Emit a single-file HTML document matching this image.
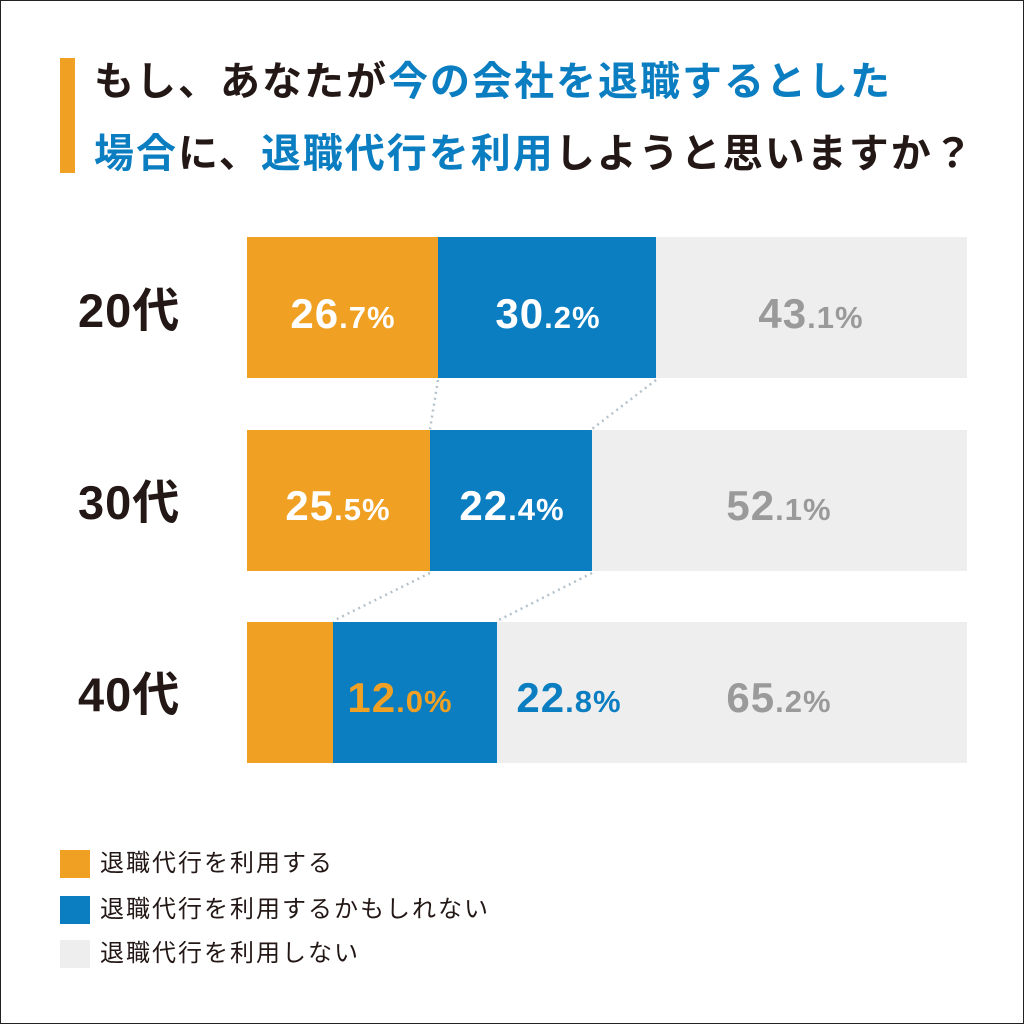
<!DOCTYPE html>
<html><head><meta charset="utf-8"><style>
*{margin:0;padding:0;box-sizing:border-box}
body{width:1024px;height:1024px;background:#fff;position:relative;overflow:hidden;font-family:"Liberation Sans","Noto Sans CJK JP",sans-serif;color:#231815}
.frame{position:absolute;left:0;top:0;width:1024px;height:1024px;border:1px solid #222}
.tbar{position:absolute;left:60px;top:58px;width:15px;height:115px;background:#F0A023}
.title{position:absolute;left:94px;font-size:40px;font-weight:bold;white-space:nowrap;line-height:1;letter-spacing:2px}
.b{color:#0B7DC1}
.seg{position:absolute;height:141px}
.o{background:#F0A023}.bl{background:#0B7DC1}.g{background:#EEEEEE}
.age{position:absolute;left:78px;font-size:47px;font-weight:bold;line-height:1;letter-spacing:1px}
.p{position:absolute;font-weight:bold;font-size:42px;line-height:1;white-space:nowrap;transform:translateX(-50%);letter-spacing:1px}
.p small{font-size:31px}
.w{color:#fff}.gy{color:#9a9a9a}.oc{color:#F0A023}.bc{color:#0B7DC1}
.lg{position:absolute;left:60px;width:30px;height:28px}
.lt{position:absolute;left:100px;font-size:24px;line-height:1;letter-spacing:2px}
</style></head><body>
<div class="frame"></div>
<div class="tbar"></div>
<div class="title" style="top:62px">もし、あなたが<span class="b">今の会社を退職するとした</span></div>
<div class="title" style="top:134px"><span class="b">場合</span>に、<span class="b">退職代行を利用</span>しようと思いますか？</div>

<div class="seg o" style="left:247px;top:237px;width:191px"></div>
<div class="seg bl" style="left:438px;top:237px;width:218px"></div>
<div class="seg g" style="left:656px;top:237px;width:311px"></div>

<div class="seg o" style="left:247px;top:430px;width:183px"></div>
<div class="seg bl" style="left:430px;top:430px;width:162px"></div>
<div class="seg g" style="left:592px;top:430px;width:375px"></div>

<div class="seg o" style="left:247px;top:622px;width:86px"></div>
<div class="seg bl" style="left:333px;top:622px;width:164px"></div>
<div class="seg g" style="left:497px;top:622px;width:470px"></div>

<svg style="position:absolute;left:0;top:0" width="1024" height="1024">
<g stroke="#b4c2cc" stroke-width="2.5" stroke-dasharray="2 4" fill="none">
<line x1="438" y1="380" x2="430" y2="429"/>
<line x1="656" y1="380" x2="592" y2="429"/>
<line x1="430" y1="573" x2="333" y2="621"/>
<line x1="592" y1="573" x2="497" y2="621"/>
</g></svg>

<div class="age" style="top:287px">20代</div>
<div class="age" style="top:479px">30代</div>
<div class="age" style="top:671px">40代</div>

<div class="p w" style="left:343px;top:293px">26<small>.7%</small></div>
<div class="p w" style="left:548px;top:293px">30<small>.2%</small></div>
<div class="p gy" style="left:811px;top:293px">43<small>.1%</small></div>

<div class="p w" style="left:338px;top:485px">25<small>.5%</small></div>
<div class="p w" style="left:512px;top:485px">22<small>.4%</small></div>
<div class="p gy" style="left:779px;top:485px">52<small>.1%</small></div>

<div class="p oc" style="left:400px;top:677px">12<small>.0%</small></div>
<div class="p bc" style="left:569px;top:677px">22<small>.8%</small></div>
<div class="p gy" style="left:779px;top:677px">65<small>.2%</small></div>

<div class="lg o" style="top:850px"></div><div class="lt" style="top:852px">退職代行を利用する</div>
<div class="lg bl" style="top:896px"></div><div class="lt" style="top:898px">退職代行を利用するかもしれない</div>
<div class="lg g" style="top:940px"></div><div class="lt" style="top:942px">退職代行を利用しない</div>
</body></html>
